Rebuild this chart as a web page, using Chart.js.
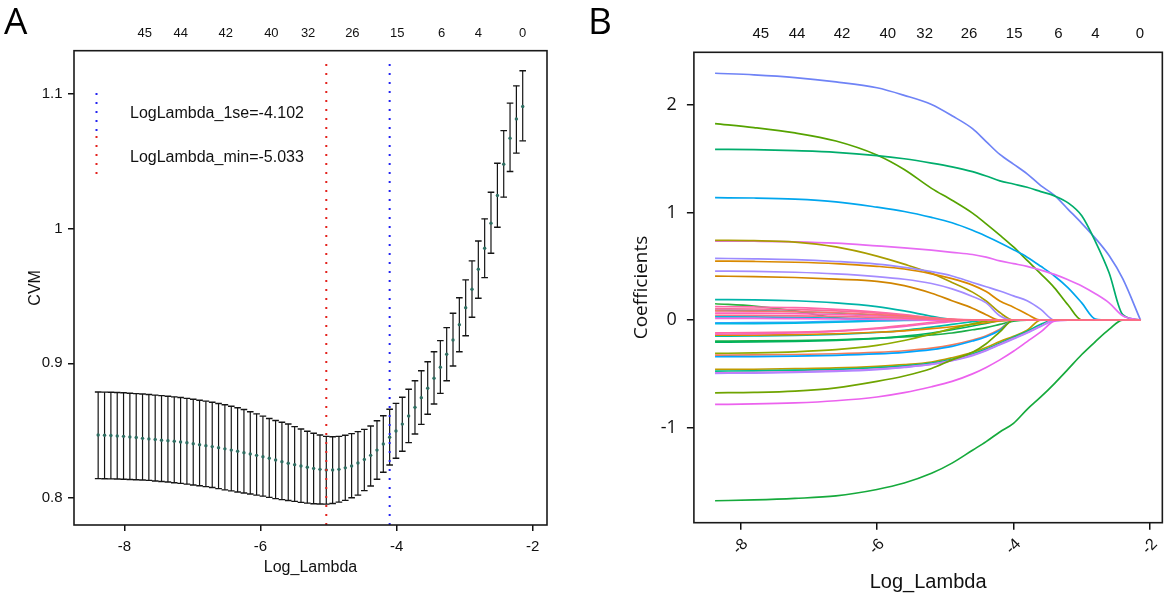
<!DOCTYPE html>
<html>
<head>
<meta charset="utf-8">
<script src="https://cdn.jsdelivr.net/npm/chart.js@4.4.1/dist/chart.umd.min.js"></script>
<style>
  html, body { margin: 0; padding: 0; background: #fff; }
  #page { position: relative; width: 1169px; height: 596px; overflow: hidden; font-family: 'Liberation Sans', Arial, sans-serif; }
  .panel { position: absolute; top: 0; height: 596px; }
  #boxA { left: 0; width: 580px; }
  #boxB { left: 580px; width: 589px; }
  .letter { position: absolute; top: 1px; font-family: 'Open Sans', sans-serif; font-size: 37px; line-height: 37px; color: #000; }
  .leg { position: absolute; left: 130px; font-size: 16px; line-height: 16px; color: #111; white-space: nowrap; }
</style>
</head>
<body>
<div id="page">
  <div class="panel" id="boxA"><canvas id="cvA" width="580" height="596"></canvas></div>
  <div class="panel" id="boxB"><canvas id="cvB" width="589" height="596"></canvas></div>
  <div class="letter" style="left:4px">A</div>
  <div class="letter" style="left:588px">B</div>
  <div class="leg" style="top:105px">LogLambda_1se=-4.102</div>
  <div class="leg" style="top:149px">LogLambda_min=-5.033</div>
</div>
<script>
// ---- panel A: cross-validation curve ----
const lambdas = [-8.385, -8.291, -8.198, -8.105, -8.012, -7.919, -7.826, -7.733, -7.640, -7.547,
  -7.454, -7.360, -7.267, -7.174, -7.081, -6.988, -6.895, -6.802, -6.709, -6.616,
  -6.523, -6.429, -6.336, -6.243, -6.150, -6.057, -5.964, -5.871, -5.778, -5.685,
  -5.592, -5.498, -5.405, -5.312, -5.219, -5.126, -5.033, -4.940, -4.847, -4.754,
  -4.661, -4.568, -4.474, -4.381, -4.288, -4.195, -4.102, -4.009, -3.916, -3.823,
  -3.730, -3.637, -3.543, -3.450, -3.357, -3.264, -3.171, -3.078, -2.985, -2.892,
  -2.799, -2.706, -2.613, -2.519, -2.426, -2.333, -2.240, -2.147];
const cvm = [0.8468, 0.8466, 0.8464, 0.8461, 0.8458, 0.8454, 0.8449, 0.8443, 0.8439, 0.8434,
  0.8429, 0.8425, 0.8421, 0.8416, 0.8410, 0.8403, 0.8396, 0.8389, 0.8382, 0.8374,
  0.8365, 0.8356, 0.8347, 0.8337, 0.8327, 0.8317, 0.8306, 0.8295, 0.8282, 0.8270,
  0.8258, 0.8248, 0.8238, 0.8229, 0.8220, 0.8213, 0.8208, 0.8208, 0.8213, 0.8224,
  0.8238, 0.8260, 0.8287, 0.8317, 0.8356, 0.8401, 0.8451, 0.8498, 0.8549, 0.8609,
  0.8673, 0.8745, 0.8815, 0.8889, 0.8971, 0.9067, 0.9173, 0.9287, 0.9413, 0.9550,
  0.9698, 0.9854, 1.0040, 1.0245, 1.0478, 1.0671, 1.0814, 1.0906];
const cvup = [0.8787, 0.8786, 0.8785, 0.8783, 0.8781, 0.8778, 0.8775, 0.8772, 0.8768, 0.8764,
  0.8760, 0.8756, 0.8751, 0.8746, 0.8740, 0.8733, 0.8726, 0.8719, 0.8711, 0.8702,
  0.8692, 0.8681, 0.8670, 0.8657, 0.8641, 0.8625, 0.8608, 0.8590, 0.8576, 0.8563,
  0.8550, 0.8530, 0.8512, 0.8496, 0.8481, 0.8468, 0.8458, 0.8455, 0.8458, 0.8466,
  0.8478, 0.8493, 0.8510, 0.8535, 0.8574, 0.8611, 0.8659, 0.8703, 0.8748, 0.8807,
  0.8871, 0.8945, 0.9012, 0.9086, 0.9168, 0.9265, 0.9371, 0.9487, 0.9619, 0.9760,
  0.9908, 1.0072, 1.0270, 1.0485, 1.0727, 1.0931, 1.1059, 1.1171];
const cvlo = [0.8144, 0.8143, 0.8142, 0.8141, 0.8140, 0.8138, 0.8136, 0.8134, 0.8131, 0.8127,
  0.8123, 0.8119, 0.8114, 0.8109, 0.8103, 0.8097, 0.8091, 0.8085, 0.8078, 0.8070,
  0.8061, 0.8053, 0.8045, 0.8037, 0.8030, 0.8022, 0.8014, 0.8005, 0.7996, 0.7988,
  0.7982, 0.7975, 0.7968, 0.7962, 0.7958, 0.7956, 0.7955, 0.7960, 0.7970, 0.7983,
  0.8002, 0.8022, 0.8055, 0.8089, 0.8139, 0.8191, 0.8245, 0.8295, 0.8347, 0.8411,
  0.8475, 0.8547, 0.8622, 0.8698, 0.8777, 0.8871, 0.8980, 0.9086, 0.9205, 0.9342,
  0.9483, 0.9636, 0.9817, 1.0010, 1.0233, 1.0423, 1.0560, 1.0651];
const lambdaMin = -5.033;
const lambda1se = -4.102;

// number of non-zero coefficients shown on the top axis
const dfTicks = [-7.70, -7.17, -6.51, -5.84, -5.30, -4.65, -3.99, -3.34, -2.80, -2.15];
const dfLabels = ['45', '44', '42', '40', '32', '26', '15', '6', '4', '0'];

const xTicks = [-8, -6, -4, -2];
const yTicksA = [0.8, 0.9, 1, 1.1];
const yLabelsA = ['0.8', '0.9', '1', '1.1'];
const yTicksB = [-1, 0, 1, 2];
const yLabelsB = ['-1', '0', '1', '2'];

// ---- panel B: coefficient paths ----
const pathLambda = [-8.37, -7.8, -7.2, -6.6, -6.0, -5.6, -5.2, -4.9, -4.6, -4.4, -4.2,
  -4.0, -3.8, -3.6, -3.4, -3.2, -3.0, -2.8, -2.6, -2.4, -2.14];
const coef01 = [2.295, 2.28, 2.255, 2.215, 2.16, 2.09, 2.005, 1.90, 1.78, 1.66, 1.54, 1.45, 1.36, 1.25, 1.16, 1.03, 0.90, 0.76, 0.60, 0.385, 0];
const coef02 = [1.827, 1.79, 1.74, 1.665, 1.535, 1.40, 1.225, 1.115, 0.995, 0.895, 0.79, 0.68, 0.555, 0.43, 0.30, 0.14, 0, 0, 0, 0, 0];
const coef03 = [1.588, 1.585, 1.575, 1.56, 1.53, 1.50, 1.46, 1.425, 1.38, 1.34, 1.295, 1.265, 1.235, 1.195, 1.155, 1.09, 0.97, 0.73, 0.44, 0.05, 0];
const coef04 = [1.138, 1.135, 1.125, 1.10, 1.05, 1.01, 0.955, 0.905, 0.835, 0.78, 0.72, 0.655, 0.585, 0.50, 0.41, 0.30, 0.16, 0.01, 0, 0, 0];
const coef05 = [0.735, 0.733, 0.728, 0.715, 0.69, 0.672, 0.65, 0.63, 0.61, 0.585, 0.55, 0.525, 0.50, 0.465, 0.425, 0.375, 0.318, 0.245, 0.16, 0.04, 0];
const coef06 = [0.741, 0.738, 0.725, 0.68, 0.595, 0.52, 0.435, 0.35, 0.26, 0.177, 0.07, 0, 0, 0, 0, 0, 0, 0, 0, 0, 0];
const coef07 = [0.574, 0.57, 0.562, 0.545, 0.52, 0.49, 0.45, 0.41, 0.35, 0.31, 0.27, 0.225, 0.18, 0.10, 0, 0, 0, 0, 0, 0, 0];
const coef08 = [0.549, 0.545, 0.538, 0.525, 0.50, 0.475, 0.43, 0.385, 0.325, 0.265, 0.177, 0.12, 0.055, 0, 0, 0, 0, 0, 0, 0, 0];
const coef09 = [0.409, 0.405, 0.396, 0.38, 0.36, 0.32, 0.25, 0.18, 0.11, 0.05, 0, 0, 0, 0, 0, 0, 0, 0, 0, 0, 0];
const coef10 = [0.456, 0.453, 0.445, 0.43, 0.405, 0.38, 0.34, 0.29, 0.22, 0.16, 0.04, 0, 0, 0, 0, 0, 0, 0, 0, 0, 0];
const coef11 = [0.19, 0.188, 0.18, 0.16, 0.125, 0.085, 0.035, 0.005, 0, 0, 0, 0, 0, 0, 0, 0, 0, 0, 0, 0, 0];
const coef12 = [0.152, 0.13, 0.085, 0.02, 0, 0, 0, 0, 0, 0, 0, 0, 0, 0, 0, 0, 0, 0, 0, 0, 0];
const coef13 = [0.125, 0.122, 0.115, 0.10, 0.075, 0.05, 0.02, 0.005, 0, 0, 0, 0, 0, 0, 0, 0, 0, 0, 0, 0, 0];
const coef14 = [0.105, 0.103, 0.097, 0.085, 0.065, 0.045, 0.02, 0.005, 0, 0, 0, 0, 0, 0, 0, 0, 0, 0, 0, 0, 0];
const coef15 = [0.085, 0.083, 0.078, 0.068, 0.052, 0.037, 0.018, 0.006, 0, 0, 0, 0, 0, 0, 0, 0, 0, 0, 0, 0, 0];
const coef16 = [0.09, 0.088, 0.08, 0.066, 0.045, 0.025, 0.008, 0, 0, 0, 0, 0, 0, 0, 0, 0, 0, 0, 0, 0, 0];
const coef17 = [0.065, 0.064, 0.06, 0.052, 0.04, 0.028, 0.015, 0.007, 0.002, 0, 0, 0, 0, 0, 0, 0, 0, 0, 0, 0, 0];
const coef18 = [0.045, 0.044, 0.04, 0.034, 0.025, 0.017, 0.009, 0.004, 0, 0, 0, 0, 0, 0, 0, 0, 0, 0, 0, 0, 0];
const coef19 = [0.03, 0.029, 0.025, 0.018, 0.01, 0.004, 0, 0, 0, 0, 0, 0, 0, 0, 0, 0, 0, 0, 0, 0, 0];
const coef20 = [0.015, 0.015, 0.013, 0.01, 0.006, 0.003, 0, 0, 0, 0, 0, 0, 0, 0, 0, 0, 0, 0, 0, 0, 0];
const coef21 = [-0.025, -0.024, -0.02, -0.012, -0.004, 0, 0, 0, 0, 0, 0, 0, 0, 0, 0, 0, 0, 0, 0, 0, 0];
const coef22 = [-0.034, -0.033, -0.029, -0.02, -0.008, -0.002, 0, 0, 0, 0, 0, 0, 0, 0, 0, 0, 0, 0, 0, 0, 0];
const coef23 = [-0.118, -0.117, -0.112, -0.10, -0.075, -0.05, -0.02, -0.005, 0, 0, 0, 0, 0, 0, 0, 0, 0, 0, 0, 0, 0];
const coef24 = [-0.13, -0.128, -0.12, -0.105, -0.08, -0.058, -0.032, -0.014, 0, 0, 0, 0, 0, 0, 0, 0, 0, 0, 0, 0, 0];
const coef25 = [-0.149, -0.147, -0.143, -0.133, -0.115, -0.095, -0.065, -0.04, -0.015, 0, 0, 0, 0, 0, 0, 0, 0, 0, 0, 0, 0];
const coef26 = [-0.195, -0.194, -0.19, -0.183, -0.17, -0.157, -0.138, -0.12, -0.09, -0.07, -0.04, -0.01, 0, 0, 0, 0, 0, 0, 0, 0, 0];
const coef27 = [-0.205, -0.203, -0.198, -0.188, -0.17, -0.15, -0.12, -0.09, -0.055, -0.03, -0.005, 0, 0, 0, 0, 0, 0, 0, 0, 0, 0];
const coef28 = [-0.14, -0.139, -0.135, -0.127, -0.113, -0.1, -0.08, -0.062, -0.04, -0.025, -0.008, 0, 0, 0, 0, 0, 0, 0, 0, 0, 0];
const coef29 = [-0.31, -0.305, -0.295, -0.275, -0.235, -0.19, -0.13, -0.08, -0.035, -0.01, 0, 0, 0, 0, 0, 0, 0, 0, 0, 0, 0];
const coef30 = [-0.326, -0.324, -0.32, -0.313, -0.30, -0.285, -0.26, -0.23, -0.185, -0.145, -0.085, 0, 0, 0, 0, 0, 0, 0, 0, 0, 0];
const coef31 = [-0.341, -0.339, -0.335, -0.328, -0.315, -0.30, -0.275, -0.245, -0.195, -0.155, -0.095, 0, 0, 0, 0, 0, 0, 0, 0, 0, 0];
const coef32 = [-0.459, -0.457, -0.452, -0.445, -0.43, -0.415, -0.39, -0.35, -0.30, -0.255, -0.20, -0.15, -0.095, 0, 0, 0, 0, 0, 0, 0, 0];
const coef33 = [-0.474, -0.472, -0.466, -0.458, -0.442, -0.425, -0.40, -0.365, -0.315, -0.27, -0.215, -0.16, -0.105, -0.04, 0, 0, 0, 0, 0, 0, 0];
const coef34 = [-0.49, -0.488, -0.482, -0.472, -0.455, -0.437, -0.41, -0.375, -0.325, -0.28, -0.225, -0.17, -0.115, -0.055, 0, 0, 0, 0, 0, 0, 0];
const coef35 = [-0.495, -0.493, -0.487, -0.477, -0.46, -0.44, -0.413, -0.378, -0.33, -0.285, -0.23, -0.175, -0.12, -0.06, -0.005, 0, 0, 0, 0, 0, 0];
const coef36 = [-0.676, -0.672, -0.66, -0.63, -0.57, -0.52, -0.45, -0.37, -0.30, -0.22, -0.11, 0, 0, 0, 0, 0, 0, 0, 0, 0, 0];
const coef37 = [-0.784, -0.78, -0.77, -0.75, -0.715, -0.675, -0.62, -0.57, -0.50, -0.44, -0.37, -0.29, -0.20, -0.11, -0.01, 0, 0, 0, 0, 0, 0];
const coef38 = [-1.68, -1.672, -1.658, -1.635, -1.575, -1.515, -1.425, -1.33, -1.21, -1.13, -1.04, -0.96, -0.83, -0.715, -0.59, -0.456, -0.32, -0.20, -0.087, 0, 0];

// drawing order (later = on top) with line colours
const paths = [
  [coef01, '#6f83f6'], [coef02, '#56a300'], [coef03, '#00ad6c'], [coef04, '#00a6ee'],
  [coef05, '#e76bf3'], [coef06, '#a99d00'], [coef07, '#9c8bff'], [coef08, '#d98900'],
  [coef09, '#d08500'], [coef10, '#a58cff'], [coef11, '#00b4a8'], [coef12, '#2fb040'],
  [coef21, '#35a2ff'], [coef22, '#00b9e3'], [coef25, '#00bfa8'], [coef26, '#1cae48'],
  [coef27, '#00b35c'], [coef28, '#e58700'], [coef29, '#8fab00'], [coef30, '#f37b59'],
  [coef31, '#00a5ff'], [coef32, '#c09b00'], [coef33, '#00be8a'], [coef34, '#ef67eb'],
  [coef35, '#b385ff'], [coef36, '#6fa400'], [coef37, '#ec62ee'], [coef38, '#16aa3c'],
  [coef16, '#00c0b5'], [coef19, '#00bcd8'], [coef20, '#f564e3'], [coef24, '#f066c8'],
  [coef17, '#ff62bc'], [coef13, '#ff66a8'], [coef14, '#fb6a9a'], [coef23, '#ff67a4'],
  [coef15, '#f8766d'], [coef18, '#fc6d86']
];

const SANS = "'Liberation Sans', Arial, sans-serif";
const OPEN = "'Open Sans', 'Liberation Sans', sans-serif";
Chart.defaults.font.family = SANS;
Chart.defaults.color = '#111';

function fixedTicks(values) {
  return scale => { scale.ticks = values.map(v => ({ value: v })); };
}

// plot frame drawn around the chart area, like R's box()
const framePlugin = {
  id: 'frame',
  afterDatasetsDraw(chart) {
    const { ctx, chartArea: a } = chart;
    ctx.save();
    ctx.strokeStyle = '#1a1a1a';
    ctx.lineWidth = 1.6;
    ctx.strokeRect(a.left, a.top, a.right - a.left, a.bottom - a.top);
    ctx.restore();
  }
};

// dotted keys for the text legend in panel A
const legendKeys = {
  id: 'legendKeys',
  afterDatasetsDraw(chart) {
    const { ctx, chartArea: a } = chart;
    const x = a.left + 22.5;
    ctx.save();
    ctx.lineWidth = 2;
    ctx.setLineDash([2, 7]);
    ctx.strokeStyle = '#2323f0';
    ctx.beginPath(); ctx.moveTo(x, 93); ctx.lineTo(x, 135); ctx.stroke();
    ctx.strokeStyle = '#e3211c';
    ctx.beginPath(); ctx.moveTo(x, 136); ctx.lineTo(x, 181); ctx.stroke();
    ctx.restore();
  }
};

const tickGrid = len => ({ display: true, drawOnChartArea: false, drawTicks: true, tickLength: len, color: '#111', lineWidth: 1.5 });

// ---- chart A ----
const yMinA = 0.78, yMaxA = 1.132, vlineTop = 1.127;
new Chart(document.getElementById('cvA'), {
  type: 'scatter',
  data: {
    datasets: [
      { data: [{ x: lambda1se, y: yMinA }, { x: lambda1se, y: vlineTop }], showLine: true,
        borderColor: '#2323f0', borderWidth: 2, borderDash: [2, 7], pointRadius: 0, order: 0 },
      { data: [{ x: lambdaMin, y: yMinA }, { x: lambdaMin, y: vlineTop }], showLine: true,
        borderColor: '#e3211c', borderWidth: 2, borderDash: [2, 7], pointRadius: 0, order: 1 },
      { data: lambdas.map((x, i) => ({ x, y: cvm[i] })), pointRadius: 1.7,
        backgroundColor: '#2f6e62', pointBackgroundColor: '#2f6e62', pointBorderWidth: 0, order: 2 },
      { data: lambdas.flatMap((x, i) => [{ x, y: cvup[i] }, { x, y: cvlo[i] }]),
        pointStyle: 'line', pointRadius: 3.3, pointBorderColor: '#151515', pointBorderWidth: 1.4, order: 3 },
      { data: lambdas.flatMap((x, i) => [{ x, y: cvlo[i] }, { x, y: cvup[i] }, { x, y: null }]),
        showLine: true, spanGaps: false, pointRadius: 0, borderColor: '#151515', borderWidth: 1.2, order: 4 }
    ]
  },
  options: {
    responsive: false, animation: false, devicePixelRatio: 1, events: [],
    layout: { padding: { left: 0, right: 33, top: 0, bottom: 0 }, autoPadding: false },
    plugins: { legend: { display: false }, tooltip: { enabled: false } },
    scales: {
      x: {
        type: 'linear', min: -8.74, max: -1.79,
        afterBuildTicks: fixedTicks(xTicks),
        afterFit: s => { s.height = 71; },
        ticks: { autoSkip: false, font: { size: 15 }, color: '#111', padding: 7, callback: v => String(v) },
        grid: tickGrid(6), border: { display: false },
        title: { display: true, text: 'Log_Lambda', font: { size: 16 }, color: '#111', padding: { top: 0, bottom: 19 } }
      },
      xTop: {
        type: 'linear', position: 'top', min: -8.74, max: -1.79,
        afterBuildTicks: fixedTicks(dfTicks),
        afterFit: s => { s.height = 50.7; },
        ticks: { autoSkip: false, font: { size: 13 }, color: '#111', padding: 1.2, callback: (v, i) => dfLabels[i] },
        grid: { display: false }, border: { display: false }
      },
      y: {
        type: 'linear', min: yMinA, max: yMaxA,
        afterBuildTicks: fixedTicks(yTicksA),
        afterFit: s => { s.width = 74; },
        ticks: { autoSkip: false, font: { size: 15 }, color: '#111', padding: 5.5, callback: (v, i) => yLabelsA[i] },
        grid: tickGrid(6), border: { display: false },
        title: { display: true, text: 'CVM', font: { size: 16 }, color: '#111', padding: { top: 26, bottom: 0 } }
      }
    }
  },
  plugins: [framePlugin, legendKeys]
});

// ---- chart B ----
new Chart(document.getElementById('cvB'), {
  type: 'scatter',
  data: {
    datasets: paths.map(([vals, color], k) => ({
      data: pathLambda.map((x, i) => ({ x, y: vals[i] })),
      showLine: true, pointRadius: 0, borderColor: color, borderWidth: 1.7,
      cubicInterpolationMode: 'monotone', order: -k
    }))
  },
  options: {
    responsive: false, animation: false, devicePixelRatio: 1, events: [],
    layout: { padding: { left: 0, right: 4.4, top: 0, bottom: 0 }, autoPadding: false },
    plugins: { legend: { display: false }, tooltip: { enabled: false } },
    scales: {
      x: {
        type: 'linear', min: -8.68, max: -1.82,
        afterBuildTicks: fixedTicks(xTicks),
        afterFit: s => { s.height = 73.3; },
        ticks: { autoSkip: false, minRotation: 45, maxRotation: 45, labelOffset: 5, font: { size: 16 }, color: '#111', padding: 5.2, callback: v => String(v) },
        grid: tickGrid(7), border: { display: false },
        title: { display: true, text: 'Log_Lambda', font: { size: 20 }, color: '#111', padding: { top: 0, bottom: 2 } }
      },
      xTop: {
        type: 'linear', position: 'top', min: -8.68, max: -1.82,
        afterBuildTicks: fixedTicks(dfTicks),
        afterFit: s => { s.height = 52.3; },
        ticks: { autoSkip: false, font: { size: 15 }, color: '#111', padding: 1.6, callback: (v, i) => dfLabels[i] },
        grid: { display: false }, border: { display: false }
      },
      y: {
        type: 'linear', min: -1.884, max: 2.49,
        afterBuildTicks: fixedTicks(yTicksB),
        afterFit: s => { s.width = 113.9; },
        ticks: { autoSkip: false, font: { size: 18, family: OPEN }, color: '#111', padding: 10, callback: (v, i) => yLabelsB[i] },
        grid: tickGrid(7), border: { display: false },
        title: { display: true, text: 'Coefficients', font: { size: 19, family: OPEN }, color: '#111', padding: { top: 50, bottom: 0 } }
      }
    }
  },
  plugins: [framePlugin]
});
</script>
</body>
</html>
